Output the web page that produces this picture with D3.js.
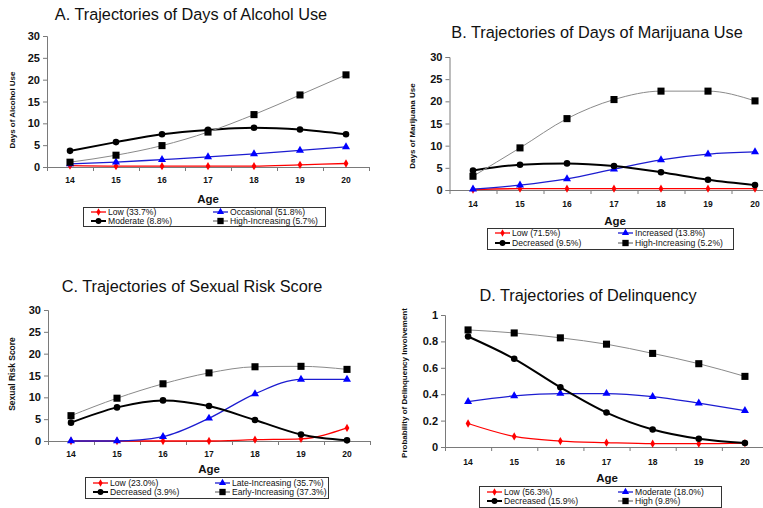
<!DOCTYPE html>
<html><head><meta charset="utf-8">
<script src="https://cdn.jsdelivr.net/npm/d3@7"></script>
<style>body{margin:0;background:#fff}svg{display:block}</style>
</head><body><svg id="c" width="763" height="508"></svg>
<script>
const ages = [14, 15, 16, 17, 18, 19, 20];

// Panel A: Days of Alcohol Use
const alcLow = [0.3, 0.2, 0.2, 0.2, 0.2, 0.5, 0.8];
const alcOccasional = [0.7, 1.1, 1.7, 2.3, 3.0, 3.8, 4.6];
const alcModerate = [3.7, 5.7, 7.5, 8.5, 9.0, 8.6, 7.5];
const alcHighInc = [1.1, 2.7, 4.9, 8.0, 12.0, 16.5, 21.1];
const alcLabels = ["Low (33.7%)", "Occasional (51.8%)", "Moderate (8.8%)", "High-Increasing (5.7%)"];
const alcTicks = [0, 5, 10, 15, 20, 25, 30];

// Panel B: Days of Marijuana Use
const marLow = [0.1, 0.3, 0.3, 0.3, 0.3, 0.3, 0.3];
const marIncreased = [0.2, 1.1, 2.5, 4.7, 6.8, 8.1, 8.6];
const marDecreased = [4.4, 5.7, 6.0, 5.4, 4.0, 2.3, 1.1];
const marHighInc = [3.1, 9.5, 16.1, 20.4, 22.3, 22.3, 20.1];
const marLabels = ["Low (71.5%)", "Increased (13.8%)", "Decreased (9.5%)", "High-Increasing (5.2%)"];
const marTicks = [0, 5, 10, 15, 20, 25, 30];

// Panel C: Sexual Risk Score
const sexLow = [0, 0, 0, 0, 0.3, 0.5, 3.0];
const sexLateInc = [0, 0, 1.0, 5.2, 10.8, 14.1, 14.1];
const sexDecreased = [4.2, 7.7, 9.3, 8.0, 4.8, 1.5, 0.15];
const sexEarlyInc = [5.8, 9.8, 13.1, 15.6, 17.0, 17.1, 16.4];
const sexLabels = ["Low (23.0%)", "Late-Increasing (35.7%)", "Decreased (3.9%)", "Early-Increasing (37.3%)"];
const sexTicks = [0, 5, 10, 15, 20, 25, 30];

// Panel D: Delinquency
const delLow = [0.178, 0.080, 0.045, 0.033, 0.025, 0.025, 0.030];
const delModerate = [0.344, 0.387, 0.405, 0.405, 0.382, 0.332, 0.276];
const delDecreased = [0.837, 0.668, 0.452, 0.261, 0.133, 0.063, 0.030];
const delHigh = [0.887, 0.864, 0.827, 0.779, 0.709, 0.631, 0.535];
const delLabels = ["Low (56.3%)", "Moderate (18.0%)", "Decreased (15.9%)", "High (9.8%)"];
const delTicks = [0, 0.2, 0.4, 0.6, 0.8, 1];

const svg = d3.select("#c");
const FONT = "'Liberation Sans', Arial, sans-serif";

// series styles: red/diamond, blue/triangle, black/circle, gray/square
const styles = [
  {line: "#ff0000", width: 1.3, marker: "diamond", fill: "#ff0000", size: 20},
  {line: "#1c1cd0", width: 1.3, marker: "triangle", fill: "#0000ff", size: 28},
  {line: "#000000", width: 2, marker: "circle", fill: "#000000", size: 34},
  {line: "#8a8a8a", width: 1, marker: "square", fill: "#000000", size: 50}
];
const symType = {diamond: d3.symbolDiamond, triangle: d3.symbolTriangle, circle: d3.symbolCircle, square: d3.symbolSquare};

function panel(cfg) {
  const g = svg.append("g");
  const x = d3.scaleLinear().domain([13.5, 20.5]).range([cfg.x0, cfg.x1]);
  const y = d3.scaleLinear().domain([0, cfg.ymax]).range([cfg.yb, cfg.yt]);

  // title
  g.append("text").attr("x", cfg.tx).attr("y", cfg.ty).attr("text-anchor", "middle")
    .style("font-family", FONT).style("font-size", "16.3px").attr("fill", "#111").text(cfg.title);

  // y axis
  const ya = g.append("g").attr("transform", `translate(${cfg.x0},0)`)
    .call(d3.axisLeft(y).tickValues(cfg.ticks).tickSize(4).tickPadding(3).tickFormat(cfg.fmt));
  ya.select(".domain").attr("stroke", "#7a7a7a");
  ya.selectAll(".tick line").attr("stroke", "#7a7a7a");
  ya.selectAll("text").style("font-family", FONT).style("font-size", "11px").style("font-weight", "bold").attr("fill", "#111");

  // x axis (category boundaries as tick marks)
  const xa = g.append("g").attr("transform", `translate(0,${cfg.yb})`)
    .call(d3.axisBottom(x).tickValues(d3.range(13.5, 21, 1)).tickSize(4).tickSizeOuter(0).tickFormat(""));
  xa.select(".domain").attr("stroke", "#7a7a7a");
  xa.selectAll(".tick line").attr("stroke", "#7a7a7a");
  g.selectAll(null).data(ages).join("text")
    .attr("x", d => x(d)).attr("y", cfg.yb + cfg.lblOff).attr("text-anchor", "middle")
    .style("font-family", FONT).style("font-size", "8.5px").style("font-weight", "bold").attr("fill", "#111")
    .text(d => d);

  // axis titles
  g.append("text").attr("x", cfg.ageX).attr("y", cfg.ageY).attr("text-anchor", "middle")
    .style("font-family", FONT).style("font-size", "11.5px").style("font-weight", "bold").attr("fill", "#111").text("Age");
  g.append("text").attr("transform", `translate(${cfg.ytX},${cfg.ytY}) rotate(-90)`).attr("text-anchor", "middle")
    .style("font-family", FONT).style("font-size", cfg.ytSize + "px").style("font-weight", "bold").attr("fill", "#111")
    .text(cfg.ytitle);

  // lines and markers
  const line = d3.line().x((d, i) => x(ages[i])).y(d => y(d)).curve(d3.curveMonotoneX);
  cfg.series.forEach((s, k) => {
    const st = styles[k];
    g.append("path").datum(s).attr("d", line).attr("fill", "none")
      .attr("stroke", st.line).attr("stroke-width", st.width);
    g.selectAll(null).data(s).join("path")
      .attr("transform", (d, i) => `translate(${x(ages[i])},${y(d)})`)
      .attr("d", d3.symbol(symType[st.marker], st.size)).attr("fill", st.fill);
  });

  // legend
  const L = cfg.leg;
  const lg = g.append("g");
  lg.append("rect").attr("x", L.x + 0.5).attr("y", L.y + 0.5).attr("width", L.w).attr("height", L.h)
    .attr("fill", "#fff").attr("stroke", "#333").attr("stroke-width", 1);
  cfg.labels.forEach((lab, k) => {
    const col = k % 2, row = Math.floor(k / 2);
    const lx = L.x + (col === 0 ? 8 : L.c2);
    const ly = L.y + L.r[row];
    const st = styles[k];
    lg.append("line").attr("x1", lx).attr("x2", lx + 15).attr("y1", ly).attr("y2", ly)
      .attr("stroke", st.line === "#8a8a8a" ? "#555" : st.line).attr("stroke-width", st.width);
    lg.append("path").attr("transform", `translate(${lx + 7.5},${ly})`)
      .attr("d", d3.symbol(symType[st.marker], st.size * 0.8)).attr("fill", st.fill);
    lg.append("text").attr("x", lx + 17).attr("y", ly + 3)
      .style("font-family", FONT).style("font-size", "8.6px").attr("fill", "#111").text(lab);
  });
}

const fmtInt = d => d;
const fmtDel = d => (d === 0 || d === 1) ? d : d.toFixed(1);

panel({title: "A. Trajectories of Days of Alcohol Use", tx: 191, ty: 20,
  x0: 47, x1: 369, yb: 167, yt: 36, ymax: 30, ticks: alcTicks, fmt: fmtInt, lblOff: 16,
  ageX: 208, ageY: 203, ytitle: "Days of Alcohol Use", ytX: 15, ytY: 110, ytSize: 8,
  series: [alcLow, alcOccasional, alcModerate, alcHighInc], labels: alcLabels,
  leg: {x: 83, y: 207, w: 242, h: 19, c2: 130, r: [5, 14]}});

panel({title: "B. Trajectories of Days of Marijuana Use", tx: 597, ty: 38,
  x0: 449.5, x1: 778.5, yb: 190, yt: 57, ymax: 30, ticks: marTicks, fmt: fmtInt, lblOff: 17,
  ageX: 615, ageY: 225, ytitle: "Days of Marijuana Use", ytX: 415, ytY: 126, ytSize: 8,
  series: [marLow, marIncreased, marDecreased, marHighInc], labels: marLabels,
  leg: {x: 487, y: 228, w: 246, h: 21, c2: 131, r: [5, 15]}});

panel({title: "C. Trajectories of Sexual Risk Score", tx: 192, ty: 292,
  x0: 48, x1: 370, yb: 441, yt: 310, ymax: 30, ticks: sexTicks, fmt: fmtInt, lblOff: 16,
  ageX: 209, ageY: 473, ytitle: "Sexual Risk Score", ytX: 15, ytY: 374, ytSize: 8.5,
  series: [sexLow, sexLateInc, sexDecreased, sexEarlyInc], labels: sexLabels,
  leg: {x: 85, y: 477, w: 243, h: 21, c2: 130, r: [6, 15]}});

panel({title: "D. Trajectories of Delinquency", tx: 588, ty: 301,
  x0: 445, x1: 768, yb: 447, yt: 315, ymax: 1, ticks: delTicks, fmt: fmtDel, lblOff: 18,
  ageX: 607, ageY: 482, ytitle: "Probability of Delinquency Involvement", ytX: 407, ytY: 383, ytSize: 8,
  series: [delLow, delModerate, delDecreased, delHigh], labels: delLabels,
  leg: {x: 479, y: 486, w: 242, h: 21, c2: 139, r: [6, 15]}});
</script></body></html>
